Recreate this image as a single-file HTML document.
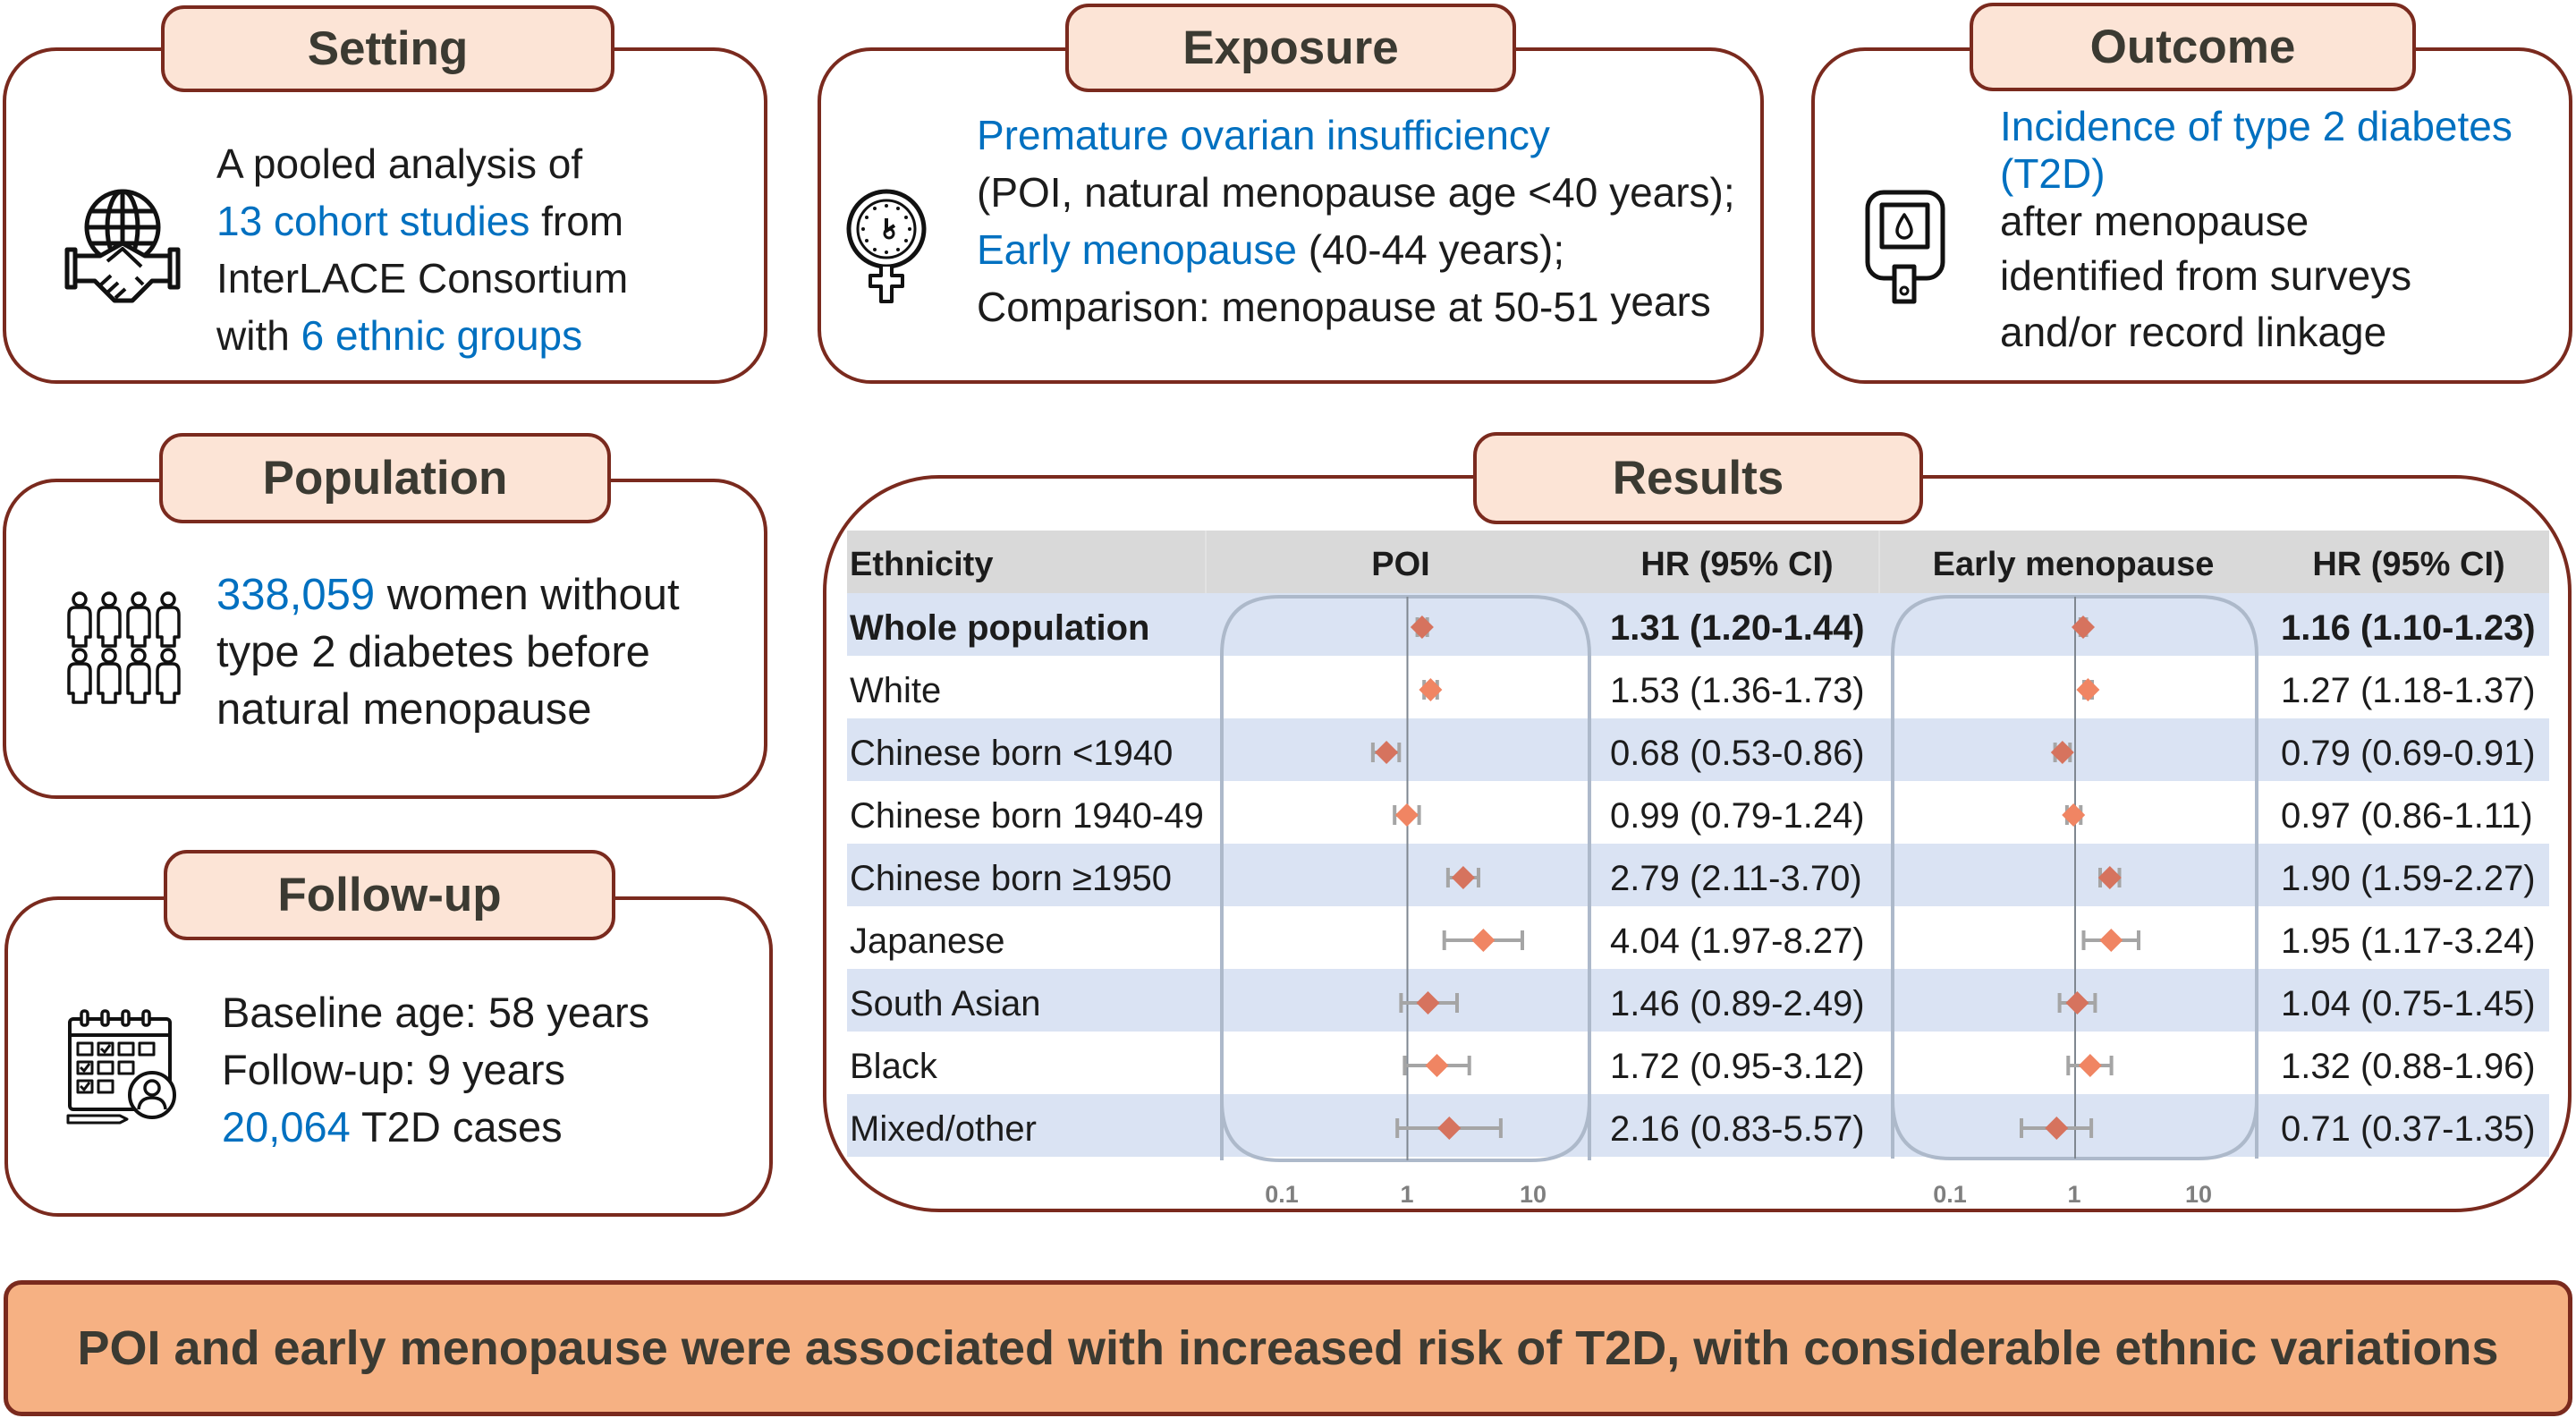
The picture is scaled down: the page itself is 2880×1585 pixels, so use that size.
<!DOCTYPE html>
<html><head><meta charset="utf-8">
<style>
html,body{margin:0;padding:0;background:#fff;}
body{width:2880px;height:1585px;position:relative;overflow:hidden;font-family:"Liberation Sans",Arial,sans-serif;color:#1c1c1c;}
.box{position:absolute;box-sizing:border-box;border:4px solid #7a2a1e;border-radius:60px;background:transparent;}
.tab{position:absolute;box-sizing:border-box;border:4px solid #7a2a1e;border-radius:26px;background:#fce4d6;text-align:center;font-weight:bold;font-size:53px;color:#3b3a32;white-space:nowrap;}
.t{position:absolute;white-space:nowrap;}
.b{color:#0070c0;}
.row{position:absolute;left:947px;width:1903px;height:70px;}
.blue{background:#dae3f3;}
.cell{position:absolute;white-space:nowrap;font-size:40px;line-height:70px;height:70px;}
.hd{position:absolute;white-space:nowrap;font-size:38px;font-weight:bold;line-height:70px;height:70px;color:#1c1c1c;}
.ax{position:absolute;font-size:27px;font-weight:bold;color:#7f7f7f;line-height:30px;width:80px;text-align:center;}
</style></head>
<body>

<!-- Outer boxes -->
<div class="box" style="left:3px;top:53px;width:855px;height:376px"></div>
<div class="box" style="left:914px;top:53px;width:1058px;height:376px"></div>
<div class="box" style="left:2025px;top:53px;width:851px;height:376px"></div>
<div class="box" style="left:3px;top:535px;width:855px;height:358px"></div>
<div class="box" style="left:5px;top:1002px;width:859px;height:358px"></div>
<div class="box" style="left:920px;top:531px;width:1955px;height:824px;border-radius:130px"></div>

<!-- Table backgrounds -->
<div class="row" style="top:593px;background:#d9d9d9"></div>
<div style="position:absolute;left:1347px;top:593px;width:2px;height:70px;background:#e2e2e2"></div>
<div style="position:absolute;left:2100px;top:593px;width:2px;height:70px;background:#e2e2e2"></div>
<div class="row blue" style="top:663px"></div>
<div class="row" style="top:733px"></div>
<div class="row blue" style="top:803px"></div>
<div class="row" style="top:873px"></div>
<div class="row blue" style="top:943px"></div>
<div class="row" style="top:1013px"></div>
<div class="row blue" style="top:1083px"></div>
<div class="row" style="top:1153px"></div>
<div class="row blue" style="top:1223px"></div>

<!-- Plot + icons -->
<svg style="position:absolute;left:0;top:0" width="2880" height="1585" viewBox="0 0 2880 1585">
  <g fill="none" stroke="#adb9ca" stroke-width="4">
    <path d="M1366 1297 L1366 732 Q1366 667 1431 667 L1712 667 Q1777 667 1777 732 L1777 1297"/>
    <path d="M1366 1230 Q1366 1297 1431 1297 L1712 1297 Q1777 1297 1777 1230"/>
    <path d="M2116 1295 L2116 732 Q2116 667 2181 667 L2458 667 Q2523 667 2523 732 L2523 1295"/>
    <path d="M2116 1230 Q2116 1295 2181 1295 L2458 1295 Q2523 1295 2523 1230"/>
  </g>
  <line x1="1573.5" y1="667" x2="1573.5" y2="1297" stroke="#7f8790" stroke-width="2"/>
  <line x1="2320" y1="667" x2="2320" y2="1295" stroke="#7f8790" stroke-width="2"/>
  <g stroke="#a5a5a5" stroke-width="4" fill="none">
    <path d="M1584.6 701H1595.7M1584.6 690V712M1595.7 690V712"/>
    <path d="M1592.2 771H1606.8M1592.2 760V782M1606.8 760V782"/>
    <path d="M1534.9 841H1564.3M1534.9 830V852M1564.3 830V852"/>
    <path d="M1559.2 911H1586.6M1559.2 900V922M1586.6 900V922"/>
    <path d="M1618.9 981H1653M1618.9 970V992M1653 970V992"/>
    <path d="M1614.7 1051H1702M1614.7 1040V1062M1702 1040V1062"/>
    <path d="M1566.4 1121H1629M1566.4 1110V1132M1629 1110V1132"/>
    <path d="M1570.4 1191H1642.7M1570.4 1180V1202M1642.7 1180V1202"/>
    <path d="M1562.2 1261H1677.9M1562.2 1250V1272M1677.9 1250V1272"/>
    <path d="M2325.8 701H2332.5M2325.8 690V712M2332.5 690V712"/>
    <path d="M2330 771H2339M2330 760V782M2339 760V782"/>
    <path d="M2297.6 841H2314.3M2297.6 830V852M2314.3 830V852"/>
    <path d="M2310.9 911H2326.3M2310.9 900V922M2326.3 900V922"/>
    <path d="M2348 981H2369.5M2348 970V992M2369.5 970V992"/>
    <path d="M2329.5 1051H2391M2329.5 1040V1062M2391 1040V1062"/>
    <path d="M2302.6 1121H2342.4M2302.6 1110V1132M2342.4 1110V1132"/>
    <path d="M2312.3 1191H2360.6M2312.3 1180V1202M2360.6 1180V1202"/>
    <path d="M2260 1261H2338.1M2260 1250V1272M2338.1 1250V1272"/>
  </g>
  <g>
    <path fill="#d6735e" d="M1589.9 688L1602.9 701L1589.9 714L1576.9 701Z"/>
    <path fill="#f08563" d="M1599.4 758L1612.4 771L1599.4 784L1586.4 771Z"/>
    <path fill="#d6735e" d="M1550.1 828L1563.1 841L1550.1 854L1537.1 841Z"/>
    <path fill="#f08563" d="M1572.9 898L1585.9 911L1572.9 924L1559.9 911Z"/>
    <path fill="#d6735e" d="M1635.9 968L1648.9 981L1635.9 994L1622.9 981Z"/>
    <path fill="#f08563" d="M1658.4 1038L1671.4 1051L1658.4 1064L1645.4 1051Z"/>
    <path fill="#d6735e" d="M1596.5 1108L1609.5 1121L1596.5 1134L1583.5 1121Z"/>
    <path fill="#f08563" d="M1606.5 1178L1619.5 1191L1606.5 1204L1593.5 1191Z"/>
    <path fill="#d6735e" d="M1620.3 1248L1633.3 1261L1620.3 1274L1607.3 1261Z"/>

    <path fill="#d6735e" d="M2329 688L2342 701L2329 714L2316 701Z"/>
    <path fill="#f08563" d="M2334.4 758L2347.4 771L2334.4 784L2321.4 771Z"/>
    <path fill="#d6735e" d="M2305.8 828L2318.8 841L2305.8 854L2292.8 841Z"/>
    <path fill="#f08563" d="M2318.2 898L2331.2 911L2318.2 924L2305.2 911Z"/>
    <path fill="#d6735e" d="M2358.8 968L2371.8 981L2358.8 994L2345.8 981Z"/>
    <path fill="#f08563" d="M2360.3 1038L2373.3 1051L2360.3 1064L2347.3 1051Z"/>
    <path fill="#d6735e" d="M2322.4 1108L2335.4 1121L2322.4 1134L2309.4 1121Z"/>
    <path fill="#f08563" d="M2336.8 1178L2349.8 1191L2336.8 1204L2323.8 1191Z"/>
    <path fill="#d6735e" d="M2299.3 1248L2312.3 1261L2299.3 1274L2286.3 1261Z"/>
  </g>

  <!-- Globe + handshake icon -->
  <g fill="none" stroke="#111" stroke-width="5" stroke-linejoin="round">
    <circle cx="137" cy="254" r="40"/>
    <ellipse cx="137" cy="254" rx="17" ry="40"/>
    <line x1="137" y1="214" x2="137" y2="294"/>
    <line x1="101" y1="236" x2="173" y2="236"/>
    <line x1="97" y1="254" x2="177" y2="254"/>
    <line x1="101" y1="272" x2="173" y2="272"/>
    <rect x="75" y="279" width="9" height="42" fill="#fff"/>
    <rect x="190" y="279" width="9" height="42" fill="#fff"/>
    <path d="M84 286 L112 286 L137 272 L162 286 L190 286 L190 314 L170 314 L148 336 L128 336 L106 314 L84 314 Z" fill="#fff"/>
    <path d="M120 292 L137 278 L158 298" stroke-width="4"/>
    <path d="M113 318 L124 308 M121 326 L132 316 M129 333 L140 323 M160 318 L152 310" stroke-width="4"/>
  </g>

  <!-- Exposure icon -->
  <g fill="none" stroke="#111" stroke-linejoin="round">
    <circle cx="991" cy="256" r="42" stroke-width="5"/>
    <circle cx="991" cy="256" r="32" stroke-width="3"/>
    <path d="M985 298 L985 308 L973 308 L973 320 L985 320 L985 337 L997 337 L997 320 L1009 320 L1009 308 L997 308 L997 298" stroke-width="4" fill="#fff"/>
    <path d="M991 244 L991 258 L1000 252" stroke-width="4"/>
    <circle cx="994" cy="261" r="5" stroke-width="3"/>
  </g>
  <g fill="#111">
    <circle cx="991" cy="230" r="2"/><circle cx="991" cy="282" r="2"/>
    <circle cx="965" cy="256" r="2"/><circle cx="1017" cy="256" r="2"/>
    <circle cx="1004" cy="233" r="2"/><circle cx="1013" cy="243" r="2"/>
    <circle cx="1013" cy="269" r="2"/><circle cx="1004" cy="279" r="2"/>
    <circle cx="978" cy="279" r="2"/><circle cx="969" cy="269" r="2"/>
    <circle cx="969" cy="243" r="2"/><circle cx="978" cy="233" r="2"/>
  </g>

  <!-- Outcome icon -->
  <g fill="none" stroke="#111" stroke-width="5" stroke-linejoin="round">
    <rect x="2088" y="215" width="84" height="96" rx="18"/>
    <rect x="2104" y="229" width="51" height="47"/>
    <path d="M2129 240 Q2121 252 2121 258 A8 8 0 0 0 2137 258 Q2137 252 2129 240 Z" stroke-width="3.5"/>
    <rect x="2118" y="298" width="22" height="39" fill="#fff"/>
    <circle cx="2129" cy="325" r="4" stroke-width="3"/>
  </g>

  <!-- Population icon -->
  <g fill="none" stroke="#111" stroke-width="3.5" stroke-linejoin="round">
    <g id="p1">
      <circle cx="89" cy="670" r="7"/>
      <path d="M77 712 L77 687 Q77 679 84 679 L94 679 Q101 679 101 687 L101 712 L96 712 L96 722 L82 722 L82 712 Z"/>
    </g>
    <use href="#p1" x="33"/><use href="#p1" x="66"/><use href="#p1" x="99"/>
    <use href="#p1" y="63"/><use href="#p1" x="33" y="63"/><use href="#p1" x="66" y="63"/><use href="#p1" x="99" y="63"/>
  </g>

  <!-- Calendar icon -->
  <g fill="none" stroke="#111" stroke-linejoin="round">
    <rect x="78" y="1139" width="112" height="101" rx="4" stroke-width="4"/>
    <line x1="78" y1="1157" x2="190" y2="1157" stroke-width="4"/>
    <g stroke-width="3.5">
      <rect x="91" y="1130" width="7" height="16" rx="3" fill="#fff"/>
      <rect x="114" y="1130" width="7" height="16" rx="3" fill="#fff"/>
      <rect x="137" y="1130" width="7" height="16" rx="3" fill="#fff"/>
      <rect x="160" y="1130" width="7" height="16" rx="3" fill="#fff"/>
    </g>
    <g stroke-width="3">
      <rect x="87" y="1166" width="16" height="13"/><rect x="110" y="1166" width="16" height="13"/><rect x="133" y="1166" width="16" height="13"/><rect x="156" y="1166" width="16" height="13"/>
      <rect x="87" y="1187" width="16" height="13"/><rect x="110" y="1187" width="16" height="13"/><rect x="133" y="1187" width="16" height="13"/>
      <rect x="87" y="1208" width="16" height="13"/><rect x="110" y="1208" width="16" height="13"/>
      <path d="M113 1172 L117 1176 L123 1168 M90 1193 L94 1197 L100 1189 M90 1214 L94 1218 L100 1210"/>
    </g>
    <circle cx="170" cy="1224" r="25" stroke-width="4" fill="#fff"/>
    <circle cx="170" cy="1216" r="8" stroke-width="3.5"/>
    <path d="M155 1240 Q156 1227 170 1227 Q184 1227 185 1240" stroke-width="3.5"/>
    <path d="M76 1247 L134 1247 L142 1251 L134 1255 L76 1255 Z" stroke-width="3" fill="#fff"/>
  </g>
</svg>

<!-- Tabs -->
<div class="tab" style="left:180px;top:6px;width:507px;height:97px;line-height:89px">Setting</div>
<div class="tab" style="left:1191px;top:4px;width:504px;height:99px;line-height:91px">Exposure</div>
<div class="tab" style="left:2202px;top:3px;width:499px;height:99px;line-height:91px">Outcome</div>
<div class="tab" style="left:178px;top:484px;width:505px;height:101px;line-height:93px">Population</div>
<div class="tab" style="left:183px;top:950px;width:505px;height:101px;line-height:93px">Follow-up</div>
<div class="tab" style="left:1647px;top:483px;width:503px;height:103px;line-height:95px">Results</div>

<!-- Setting text -->
<div class="t" style="left:242px;top:151px;font-size:46px;line-height:64px">
A pooled analysis of<br><span class="b">13 cohort studies</span> from<br>InterLACE Consortium<br>with <span class="b">6 ethnic groups</span>
</div>

<!-- Exposure text -->
<div class="t" style="left:1092px;top:119px;font-size:46px;line-height:64px">
<span class="b">Premature ovarian insufficiency</span><br>(POI, natural menopause age &lt;40 years);<br><span class="b">Early menopause</span> (40-44 years);<br>Comparison: menopause at 50-51 <span style="position:relative;top:-6px">years</span>
</div>

<!-- Outcome text -->
<div class="t" style="left:2236px;top:115px;font-size:46px;line-height:53px">
<span class="b">Incidence of type 2 diabetes<br>(T2D)</span><br>after menopause
</div>
<div class="t" style="left:2236px;top:277px;font-size:46px;line-height:63px">
identified from surveys<br>and/or record linkage
</div>

<!-- Population text -->
<div class="t" style="left:242px;top:633px;font-size:49px;line-height:64px">
<span class="b">338,059</span> women without<br>type 2 diabetes before<br>natural menopause
</div>

<!-- Follow-up text -->
<div class="t" style="left:248px;top:1100px;font-size:47px;line-height:64px">
Baseline age: 58 years<br>Follow-up: 9 years<br><span class="b">20,064</span> T2D cases
</div>

<!-- Table header -->
<div class="hd" style="left:950px;top:596px">Ethnicity</div>
<div class="hd" style="left:1466px;top:596px;width:200px;text-align:center">POI</div>
<div class="hd" style="left:1792px;top:596px;width:300px;text-align:center">HR (95% CI)</div>
<div class="hd" style="left:2118px;top:596px;width:400px;text-align:center">Early menopause</div>
<div class="hd" style="left:2543px;top:596px;width:300px;text-align:center">HR (95% CI)</div>

<!-- Table rows -->
<div class="cell" style="left:950px;top:667px;font-weight:bold">Whole population</div>
<div class="cell" style="left:1800px;top:667px;font-weight:bold">1.31 (1.20-1.44)</div>
<div class="cell" style="left:2550px;top:667px;font-weight:bold">1.16 (1.10-1.23)</div>

<div class="cell" style="left:950px;top:737px">White</div>
<div class="cell" style="left:1800px;top:737px">1.53 (1.36-1.73)</div>
<div class="cell" style="left:2550px;top:737px">1.27 (1.18-1.37)</div>

<div class="cell" style="left:950px;top:807px">Chinese born &lt;1940</div>
<div class="cell" style="left:1800px;top:807px">0.68 (0.53-0.86)</div>
<div class="cell" style="left:2550px;top:807px">0.79 (0.69-0.91)</div>

<div class="cell" style="left:950px;top:877px">Chinese born 1940-49</div>
<div class="cell" style="left:1800px;top:877px">0.99 (0.79-1.24)</div>
<div class="cell" style="left:2550px;top:877px">0.97 (0.86-1.11)</div>

<div class="cell" style="left:950px;top:947px">Chinese born ≥1950</div>
<div class="cell" style="left:1800px;top:947px">2.79 (2.11-3.70)</div>
<div class="cell" style="left:2550px;top:947px">1.90 (1.59-2.27)</div>

<div class="cell" style="left:950px;top:1017px">Japanese</div>
<div class="cell" style="left:1800px;top:1017px">4.04 (1.97-8.27)</div>
<div class="cell" style="left:2550px;top:1017px">1.95 (1.17-3.24)</div>

<div class="cell" style="left:950px;top:1087px">South Asian</div>
<div class="cell" style="left:1800px;top:1087px">1.46 (0.89-2.49)</div>
<div class="cell" style="left:2550px;top:1087px">1.04 (0.75-1.45)</div>

<div class="cell" style="left:950px;top:1157px">Black</div>
<div class="cell" style="left:1800px;top:1157px">1.72 (0.95-3.12)</div>
<div class="cell" style="left:2550px;top:1157px">1.32 (0.88-1.96)</div>

<div class="cell" style="left:950px;top:1227px">Mixed/other</div>
<div class="cell" style="left:1800px;top:1227px">2.16 (0.83-5.57)</div>
<div class="cell" style="left:2550px;top:1227px">0.71 (0.37-1.35)</div>

<!-- Axis labels -->
<div class="ax" style="left:1393px;top:1320px">0.1</div>
<div class="ax" style="left:1533px;top:1320px">1</div>
<div class="ax" style="left:1674px;top:1320px">10</div>
<div class="ax" style="left:2140px;top:1320px">0.1</div>
<div class="ax" style="left:2279px;top:1320px">1</div>
<div class="ax" style="left:2418px;top:1320px">10</div>

<!-- Bottom banner -->
<div style="position:absolute;left:4px;top:1431px;width:2872px;height:152px;box-sizing:border-box;border:5px solid #7a2a1e;border-radius:20px;background:#f6b183;text-align:center;font-weight:bold;font-size:54px;line-height:142px;color:#3b3a32;white-space:nowrap;">POI and early menopause were associated with increased risk of T2D, with considerable ethnic variations</div>

</body></html>
